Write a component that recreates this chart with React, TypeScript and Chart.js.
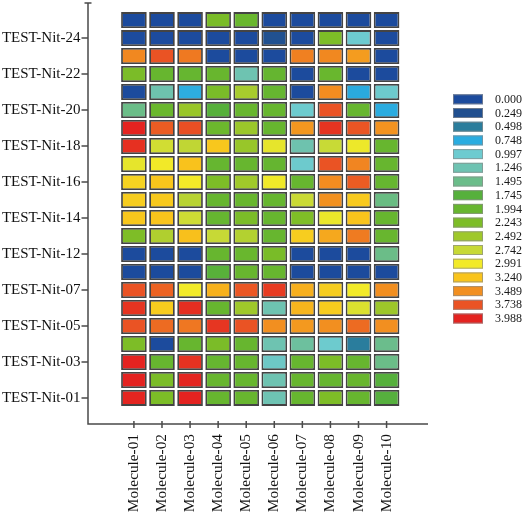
import React, { useEffect, useRef } from 'react';
import { Chart, registerables } from 'chart.js';

Chart.register(...registerables);

const molecules = ['Molecule-01', 'Molecule-02', 'Molecule-03', 'Molecule-04', 'Molecule-05', 'Molecule-06', 'Molecule-07', 'Molecule-08', 'Molecule-09', 'Molecule-10'];

// rows listed from bottom to top
const rowNames = ['TEST-Nit-01', 'TEST-Nit-02', 'TEST-Nit-03', 'TEST-Nit-04', 'TEST-Nit-05', 'TEST-Nit-06', 'TEST-Nit-07', 'TEST-Nit-08', 'TEST-Nit-12', 'TEST-Nit-13', 'TEST-Nit-14', 'TEST-Nit-15', 'TEST-Nit-16', 'TEST-Nit-17', 'TEST-Nit-18', 'TEST-Nit-19', 'TEST-Nit-20', 'TEST-Nit-21', 'TEST-Nit-22', 'TEST-Nit-23', 'TEST-Nit-24', 'TEST-Nit-25'];

const legendTicks = ['0.000', '0.249', '0.498', '0.748', '0.997', '1.246', '1.495', '1.745', '1.994', '2.243', '2.492', '2.742', '2.991', '3.240', '3.489', '3.738', '3.988'];
const legendColors = ['#1c4b9d', '#214f8f', '#2a7d9c', '#2aace0', '#6dcbd0', '#6ec3b2', '#6bbd8a', '#56b03c', '#67b62f', '#7dbd27', '#9fc82a', '#c7d936', '#f2ea28', '#f9c41c', '#f28f20', '#ea5324', '#e42320'];

const nit01 = [3.98, 2.23, 3.99, 1.99, 2.00, 1.24, 1.99, 2.25, 1.99, 1.74];
const nit02 = [3.99, 2.22, 3.98, 2.00, 1.99, 1.25, 1.99, 1.98, 2.01, 1.75];
const nit03 = [3.99, 1.99, 3.91, 1.98, 1.99, 1.08, 1.99, 2.23, 1.99, 1.50];
const nit04 = [2.24, 0.00, 1.99, 2.22, 1.99, 1.25, 1.37, 1.01, 0.50, 1.48];
const nit05 = [3.74, 3.64, 3.59, 3.89, 3.74, 3.49, 3.44, 3.49, 3.64, 3.49];
const nit06 = [3.90, 3.19, 3.93, 1.99, 2.49, 1.25, 3.31, 3.19, 2.86, 2.48];
const nit07 = [3.74, 3.67, 2.99, 3.33, 3.72, 3.86, 3.34, 3.18, 2.99, 3.49];
const nit08 = [0.00, 0.00, 0.00, 1.78, 2.00, 1.99, 0.00, 0.00, 0.00, 0.00];
const nit12 = [0.00, 0.00, 0.00, 1.99, 2.02, 2.20, 0.00, 0.00, 0.00, 1.50];
const nit13 = [2.25, 2.60, 3.26, 2.74, 2.62, 1.99, 3.18, 3.37, 3.57, 2.00];
const nit14 = [3.22, 3.24, 2.78, 1.98, 2.22, 1.99, 2.26, 2.95, 3.24, 1.99];
const nit15 = [3.18, 3.21, 2.65, 1.99, 2.01, 1.98, 2.76, 3.48, 3.20, 1.52];
const nit16 = [3.14, 3.23, 3.00, 2.24, 2.50, 2.98, 1.99, 3.50, 3.70, 1.98];
const nit17 = [2.92, 3.00, 3.25, 1.98, 1.99, 1.97, 1.02, 3.74, 3.53, 1.99];
const nit18 = [3.92, 2.80, 2.70, 3.22, 2.44, 2.92, 1.27, 2.75, 2.96, 1.99];
const nit19 = [3.99, 3.70, 3.76, 2.05, 2.46, 1.99, 3.45, 3.90, 3.73, 3.47];
const nit20 = [1.50, 2.03, 2.45, 1.76, 2.00, 1.99, 1.01, 3.74, 1.99, 0.75];
const nit21 = [0.00, 1.27, 0.76, 2.21, 2.55, 1.98, 0.00, 3.50, 0.74, 1.02];
const nit22 = [2.22, 1.99, 1.98, 2.01, 1.25, 1.97, 0.00, 2.02, 0.00, 0.00];
const nit23 = [3.52, 3.74, 3.58, 0.00, 0.00, 0.00, 3.55, 3.52, 3.43, 0.00];
const nit24 = [0.00, 0.00, 0.00, 0.00, 0.00, 0.26, 0.00, 2.24, 1.00, 0.00];
const nit25 = [0.00, 0.00, 0.00, 2.21, 2.02, 0.00, 0.00, 0.00, 0.00, 0.00];

const rowValues = [nit01, nit02, nit03, nit04, nit05, nit06, nit07, nit08, nit12, nit13, nit14, nit15, nit16, nit17, nit18, nit19, nit20, nit21, nit22, nit23, nit24, nit25];

const labelledRows = [0, 2, 4, 6, 8, 10, 12, 14, 16, 18, 20];

function hexToRgb(h: string): number[] {
  const n = parseInt(h.slice(1), 16);
  return [(n >> 16) & 255, (n >> 8) & 255, n & 255];
}

function colourFor(v: number): string {
  const stops = legendTicks.map(Number);
  if (v <= stops[0]) return legendColors[0];
  if (v >= stops[stops.length - 1]) return legendColors[legendColors.length - 1];
  for (let k = 0; k < stops.length - 1; k++) {
    if (v >= stops[k] && v <= stops[k + 1]) {
      const t = (v - stops[k]) / (stops[k + 1] - stops[k]);
      const a = hexToRgb(legendColors[k]);
      const b = hexToRgb(legendColors[k + 1]);
      const c = a.map((x, i) => Math.round(x + (b[i] - x) * t));
      return `rgb(${c[0]},${c[1]},${c[2]})`;
    }
  }
  return legendColors[0];
}

const FONT = '"Liberation Serif", "Times New Roman", serif';

const decorPlugin = {
  id: 'decor',
  afterDraw(chart: any) {
    const { ctx, chartArea: a, scales } = chart;
    ctx.save();
    ctx.strokeStyle = '#4a4a4a';
    ctx.lineWidth = 1.5;
    ctx.beginPath();
    ctx.moveTo(a.left, a.top);
    ctx.lineTo(a.left, a.bottom);
    ctx.lineTo(a.right, a.bottom);
    ctx.moveTo(a.left - 3.5, a.top);
    ctx.lineTo(a.left + 3.5, a.top);
    scales.y.ticks.forEach((t: any) => {
      const y = scales.y.getPixelForValue(t.value);
      ctx.moveTo(a.left - 6.5, y);
      ctx.lineTo(a.left, y);
    });
    scales.x.ticks.forEach((t: any) => {
      const x = scales.x.getPixelForValue(t.value);
      ctx.moveTo(x, a.bottom - 3);
      ctx.lineTo(x, a.bottom + 4);
    });
    ctx.stroke();

    // colour legend
    const lx = 453, ly = 94.3, pitch = 13.7, bw = 30, bh = 10;
    ctx.font = `12px ${FONT}`;
    ctx.textBaseline = 'middle';
    ctx.textAlign = 'left';
    legendTicks.forEach((txt, k) => {
      const y = ly + k * pitch;
      ctx.fillStyle = legendColors[k];
      ctx.fillRect(lx, y, bw, bh);
      ctx.strokeStyle = 'rgba(140,140,140,0.7)';
      ctx.lineWidth = 1;
      ctx.strokeRect(lx + 0.5, y + 0.5, bw - 1, bh - 1);
      ctx.fillStyle = '#1a1a1a';
      ctx.fillText(txt, 495, y + bh / 2 + 0.5);
    });
    ctx.restore();
  },
};

export default function App() {
  const ref = useRef<HTMLCanvasElement>(null);

  useEffect(() => {
    document.body.style.margin = '0';
    Chart.defaults.font.family = FONT;

    const datasets = rowValues.map((vals, i) => ({
      label: rowNames[i],
      data: vals.map((_, j) => ({ x: j, y: [i - 0.445, i + 0.445] })),
      backgroundColor: vals.map(colourFor),
      borderColor: '#444444',
      borderWidth: 1.8,
      borderSkipped: false,
      grouped: false,
      categoryPercentage: 1,
      barPercentage: 0.913,
    }));

    const chart = new Chart(ref.current as HTMLCanvasElement, {
      type: 'bar',
      data: { datasets: datasets as any },
      options: {
        responsive: false,
        animation: false,
        events: [],
        layout: { padding: { top: 3, right: 96, bottom: 0, left: 0 } },
        plugins: { legend: { display: false }, tooltip: { enabled: false } },
        scales: {
          x: {
            type: 'linear',
            min: -1.03,
            max: 9.87,
            grid: { display: false, drawTicks: false },
            border: { display: false },
            afterBuildTicks: (scale: any) => {
              scale.ticks = molecules.map((_, j) => ({ value: j }));
            },
            afterFit: (scale: any) => {
              scale.height = 91;
              scale.paddingLeft = 0;
              scale.paddingRight = 0;
            },
            ticks: {
              autoSkip: false,
              minRotation: 90,
              maxRotation: 90,
              padding: 10,
              color: '#111',
              font: { size: 15.3, family: FONT },
              callback: (v: any) => molecules[Math.round(Number(v))] ?? '',
            },
          },
          y: {
            type: 'linear',
            min: -1.45,
            max: 21.95,
            grid: { display: false, drawTicks: false },
            border: { display: false },
            afterBuildTicks: (scale: any) => {
              scale.ticks = labelledRows.map((r) => ({ value: r }));
            },
            afterFit: (scale: any) => {
              scale.width = 88;
              scale.paddingTop = 0;
              scale.paddingBottom = 0;
            },
            ticks: {
              autoSkip: false,
              padding: 7.5,
              color: '#111',
              font: { size: 15, family: FONT },
              callback: (v: any) => rowNames[Math.round(Number(v))] ?? '',
            },
          },
        },
      },
      plugins: [decorPlugin],
    } as any);

    return () => chart.destroy();
  }, []);

  return (
    <div style={{ width: 524, height: 515 }}>
      <canvas ref={ref} width={524} height={515} style={{ display: 'block' }} />
    </div>
  );
}
